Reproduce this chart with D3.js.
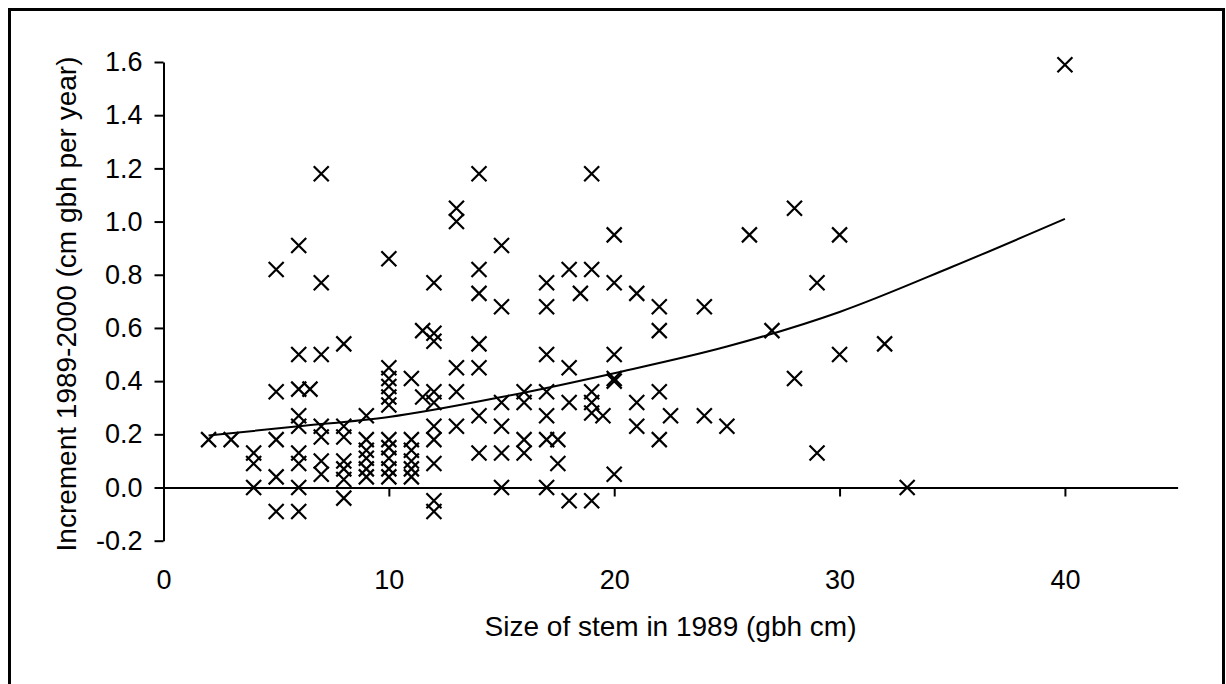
<!DOCTYPE html>
<html>
<head>
<meta charset="utf-8">
<script src="https://cdn.jsdelivr.net/npm/d3@7"></script>
<style>
    body { margin: 0; background: #fff; }
    svg { display: block; }
</style>
</head>
<body>
<svg id="chart" width="1226" height="684"></svg>
<script>
// stem size in 1989 (gbh cm) and the increments measured for stems of that size
const stemSizes = [2, 3, 4, 5, 6, 6.5, 7, 8, 9, 10, 11, 11.5, 12, 13, 14, 15, 16, 17, 17.5, 18,
    18.5, 19, 19.5, 20, 21, 22, 22.5, 24, 25, 26, 27, 28, 29, 30, 32, 33, 40]

const increments = [
    [0.18],
    [0.18],
    [0.13, 0.09, 0.0],
    [0.82, 0.36, 0.18, 0.04, -0.09],
    [0.91, 0.50, 0.37, 0.27, 0.23, 0.13, 0.09, 0.0, -0.09],
    [0.37],
    [1.18, 0.77, 0.50, 0.23, 0.19, 0.10, 0.05],
    [0.54, 0.23, 0.19, 0.10, 0.07, 0.03, -0.04],
    [0.27, 0.18, 0.14, 0.11, 0.07, 0.04],
    [0.86, 0.45, 0.41, 0.38, 0.34, 0.31, 0.18, 0.15, 0.11, 0.07, 0.04],
    [0.41, 0.18, 0.14, 0.10, 0.07, 0.04],
    [0.59, 0.34],
    [0.77, 0.58, 0.55, 0.36, 0.32, 0.23, 0.18, 0.09, -0.05, -0.09],
    [1.05, 1.00, 0.45, 0.36, 0.23],
    [1.18, 0.82, 0.73, 0.54, 0.45, 0.27, 0.13],
    [0.91, 0.68, 0.32, 0.23, 0.13, 0.0],
    [0.36, 0.32, 0.18, 0.13],
    [0.77, 0.68, 0.50, 0.36, 0.27, 0.18, 0.0],
    [0.18, 0.09],
    [0.82, 0.45, 0.32, -0.05],
    [0.73],
    [1.18, 0.82, 0.36, 0.32, 0.28, -0.05],
    [0.27],
    [0.95, 0.77, 0.50, 0.41, 0.40, 0.05],
    [0.73, 0.32, 0.23],
    [0.68, 0.59, 0.36, 0.18],
    [0.27],
    [0.68, 0.27],
    [0.23],
    [0.95],
    [0.59],
    [1.05, 0.41],
    [0.77, 0.13],
    [0.95, 0.50],
    [0.54],
    [0.0],
    [1.59]
]

// fitted curve
const trendX = [2, 6, 10, 15, 20, 25, 30, 35, 40]
const trendY = [0.196, 0.23, 0.265, 0.34, 0.43, 0.53, 0.66, 0.83, 1.01]

const xTicks = [0, 10, 20, 30, 40]
const yTicks = [-0.2, 0, 0.2, 0.4, 0.6, 0.8, 1.0, 1.2, 1.4, 1.6]

const xTitle = "Size of stem in 1989 (gbh cm)"
const yTitle = "Increment 1989-2000 (cm gbh per year)"

const FONT = "'Liberation Sans', Arial, sans-serif"
const FILL = "#000"

let svg = d3.select("#chart"),
    x = d3.scaleLinear().domain([0, 45]).range([163.5, 1177.6]),
    y = d3.scaleLinear().domain([-0.2, 1.6]).range([540.7, 62]),
    points = stemSizes.flatMap((size, i) => increments[i].map(v => ({x: size, y: v})))

// outer frame
svg.append("rect")
    .attr("x", 9.5)
    .attr("y", 9.5)
    .attr("width", 1214)
    .attr("height", 700)
    .style("fill", "none")
    .style("stroke", FILL)
    .style("stroke-width", 3)

// axes
svg.append("g")
    .attr("transform", `translate(${x(0)}, 0)`)
    .call(d3.axisLeft(y)
        .tickValues(yTicks)
        .tickFormat(d => d.toFixed(1))
        .tickSize(9)
        .tickSizeOuter(0)
        .tickPadding(12))

svg.append("g")
    .attr("transform", `translate(0, ${y(0)})`)
    .call(d3.axisBottom(x)
        .tickValues(xTicks)
        .tickFormat(d => d)
        .tickSize(9)
        .tickSizeOuter(0)
        .tickPadding(73))

svg.selectAll(".domain, .tick line")
    .style("stroke", FILL)
    .style("stroke-width", 2)

svg.selectAll(".tick text")
    .style("font-family", FONT)
    .style("font-size", "27px")
    .style("fill", FILL)

// titles
svg.append("text")
    .attr("x", (x(0) + x(45)) / 2)
    .attr("y", 636)
    .attr("text-anchor", "middle")
    .text(xTitle)
    .style("font-family", FONT)
    .style("font-size", "28px")
    .style("fill", FILL)

svg.append("text")
    .attr("transform", `translate(${76}, ${304}) rotate(-90)`)
    .attr("text-anchor", "middle")
    .text(yTitle)
    .style("font-family", FONT)
    .style("font-size", "28px")
    .style("fill", FILL)

// trend curve
svg.append("path")
    .datum(trendX.map((v, i) => [v, trendY[i]]))
    .attr("d", d3.line()
        .x(d => x(d[0]))
        .y(d => y(d[1]))
        .curve(d3.curveMonotoneX))
    .style("fill", "none")
    .style("stroke", FILL)
    .style("stroke-width", 2)

// x markers
svg.append("g")
    .selectAll("path")
    .data(points)
    .join("path")
    .attr("transform", d => `translate(${x(d.x)}, ${y(d.y)})`)
    .attr("d", "M-7.5,-7.5L7.5,7.5M-7.5,7.5L7.5,-7.5")
    .style("fill", "none")
    .style("stroke", FILL)
    .style("stroke-width", 2.2)
</script>
</body>
</html>
